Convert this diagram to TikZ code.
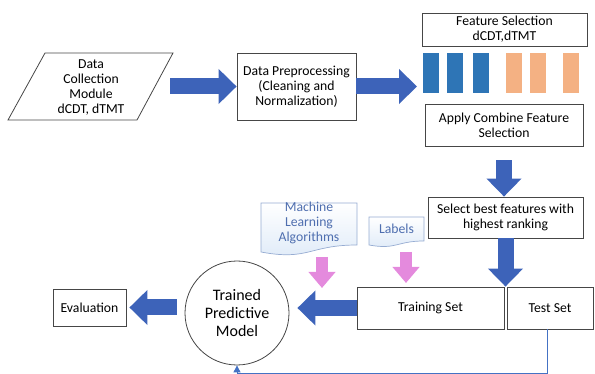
\documentclass[tikz,border=0pt]{standalone}
\usepackage{fontspec}
\setmainfont{Carlito}
\usetikzlibrary{arrows.meta,calc}

\definecolor{arrowblue}{RGB}{61,99,185}
\definecolor{lineblue}{RGB}{68,114,196}
\definecolor{barblue}{RGB}{46,117,182}
\definecolor{barorange}{RGB}{244,177,131}
\definecolor{pinkarr}{RGB}{228,138,221}
\definecolor{docfill}{RGB}{222,234,248}
\definecolor{docline}{RGB}{150,172,210}
\definecolor{doctext}{RGB}{78,110,175}
\definecolor{boxline}{RGB}{70,70,70}

\tikzset{
  box/.style={draw=boxline, line width=0.8pt, fill=white, align=center, inner sep=0pt},
  bigarrow/.style={draw=arrowblue, line width=16pt, -{Triangle[length=18pt,width=34pt]}},
  pinkarrow/.style={draw=pinkarr, line width=12pt, -{Triangle[length=16pt,width=26pt]}},
  doc/.style={draw=docline, line width=0.7pt, top color=white, bottom color=docfill},
  doclabel/.style={text=doctext, align=center},
  feedback/.style={draw=lineblue, line width=0.9pt, -{Triangle[length=7pt,width=7pt]}},
}

\begin{document}
\begin{tikzpicture}[x=1pt, y=-1pt, font=\fontsize{13.7}{15}\selectfont]
  \useasboundingbox (0,0) rectangle (595,374);

  % data collection (parallelogram)
  \coordinate (colTL) at (45,53);
  \coordinate (colTR) at (173,53);
  \coordinate (colBR) at (137,120);
  \coordinate (colBL) at (8,120);
  \draw[draw=boxline, line width=0.8pt] (colTL) -- (colTR) -- (colBR) -- (colBL) -- cycle;
  \node[align=center] (collect) at (91,87) {Data\\Collection\\Module\\dCDT, dTMT};
  \coordinate (colOut) at (170,86.5);

  \node[box, minimum width=119pt, minimum height=67pt] (prep) at (296.5,86.5)
    {Data Preprocessing\\(Cleaning and\\Normalization)};

  % feature selection with bars
  \node[box, minimum width=165pt, minimum height=33pt] (featsel) at (504.5,29.5)
    {Feature Selection\\dCDT,dTMT};
  \foreach \x/\c [count=\i] in {423/barblue, 447/barblue, 473/barblue,
                                506/barorange, 530/barorange, 563/barorange} {
      \fill[\c] (\x,53) rectangle ++(15.5,40);
  }
  \coordinate (featIn) at (417,86.5);

  \node[box, minimum width=158pt, minimum height=42pt] (combine) at (504,125)
    {Apply Combine Feature\\Selection};
  \node[box, minimum width=155pt, minimum height=41pt] (select) at (505.5,217.5)
    {Select best features with\\highest ranking};

  \node[box, minimum width=147pt, minimum height=42pt] (train) at (430.5,308) {Training Set};
  \node[box, minimum width=86pt, minimum height=42pt] (test) at (550,308) {Test Set};

  \node[box, circle, minimum size=104pt, font=\fontsize{16}{18}\selectfont] (model) at (237,313)
    {Trained\\Predictive\\Model};
  \node[box, minimum width=73pt, minimum height=37pt] (eval) at (89.5,307.5) {Evaluation};

  % document shapes
  \draw[doc] (261,203) -- (357,203) -- (357,245)
    .. controls (309,245) and (309,261) .. (261,252) -- cycle;
  \node[doclabel] (ml) at (309,223) {Machine\\Learning\\Algorithms};
  \draw[doc] (369,217) -- (424,217) -- (424,241)
    .. controls (396.5,241) and (396.5,250) .. (369,245) -- cycle;
  \node[doclabel] (labels) at (396.5,229) {Labels};

  \coordinate (mlTop) at (322,257);
  \coordinate (mlTip) at (322,288);
  \coordinate (labTop) at (406,252);
  \coordinate (labTip) at (406,283);

  % block arrows
  \draw[bigarrow] (colOut) -- (prep.west);
  \draw[bigarrow] (prep.east) -- (featIn);
  \draw[bigarrow] ([yshift=-14pt]combine.south) -- (combine.south |- select.north);
  \draw[bigarrow] (select.south) -- (select.south |- train.north);
  \draw[bigarrow] (train.west) -- ($(train.west -| model.east)+(8,0)$);
  \draw[bigarrow] ([xshift=-8pt]model.west |- eval.east) -- ([xshift=3pt]eval.east);
  \draw[pinkarrow] (mlTop) -- (mlTip);
  \draw[pinkarrow] (labTop) -- (labTip);

  % test set back to the model
  \draw[feedback] ([xshift=-3pt]test.south) -- ++(0,44) -| (model.south);
\end{tikzpicture}
\end{document}
